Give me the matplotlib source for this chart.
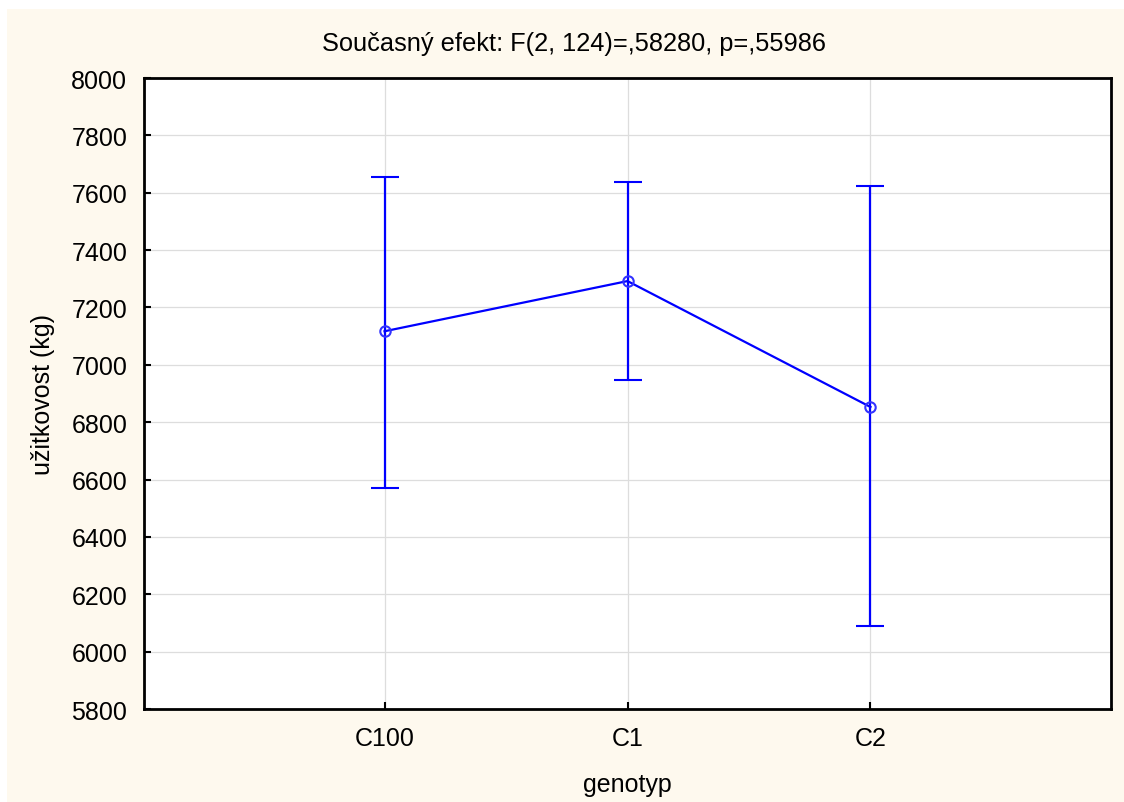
import matplotlib
matplotlib.use("Agg")
import matplotlib.pyplot as plt
from matplotlib.patches import Rectangle
import numpy as np

plt.rcParams['font.family'] = ['Liberation Sans', 'DejaVu Sans']

genotypes = ['C100', 'C1', 'C2']
means = [7117, 7292, 6853]
upper = [7655, 7637, 7623]
lower = [6571, 6947, 6089]

x = np.arange(len(genotypes))
means = np.array(means)
yerr = [means - np.array(lower), np.array(upper) - means]

fig = plt.figure(figsize=(11.24, 8.03), dpi=100)
fig.patch.set_facecolor('white')
# cream panel behind the plot
fig.patches.append(Rectangle((7 / 1124, 0), 1 - 7 / 1124, 1 - 10 / 803,
                             transform=fig.transFigure, facecolor='#fef9ee',
                             edgecolor='none', zorder=-10))

ax = fig.add_axes([144 / 1124, 1 - 710 / 803, (1111 - 144) / 1124, (710 - 79) / 803])
ax.set_facecolor('white')

ax.errorbar(x, means, yerr=yerr, color='#0000ff', lw=1.6, capsize=10, capthick=1.6,
            marker='o', ms=7.5, mfc='none', mec='#3333ff', mew=1.5, zorder=3)

ax.set_xlim(-0.99, 2.99)
ax.set_ylim(5800, 8000)
ax.set_yticks(np.arange(5800, 8001, 200))
ax.set_xticks(x)
ax.set_xticklabels(genotypes)
ax.grid(True, color='#dddddd', lw=0.9)
ax.set_axisbelow(True)
for s in ax.spines.values():
    s.set_linewidth(2)
ax.tick_params(direction='in', length=5, width=1.5, labelsize=18, pad=12)

ax.set_xlabel('genotyp', fontsize=18, labelpad=16)
ax.set_ylabel('užitkovost (kg)', fontsize=18, labelpad=12)
ax.set_title('Současný efekt: F(2, 124)=,58280, p=,55986', fontsize=18.3, pad=20, x=0.445)

fig.savefig('out.png', dpi=100, facecolor=fig.get_facecolor())
